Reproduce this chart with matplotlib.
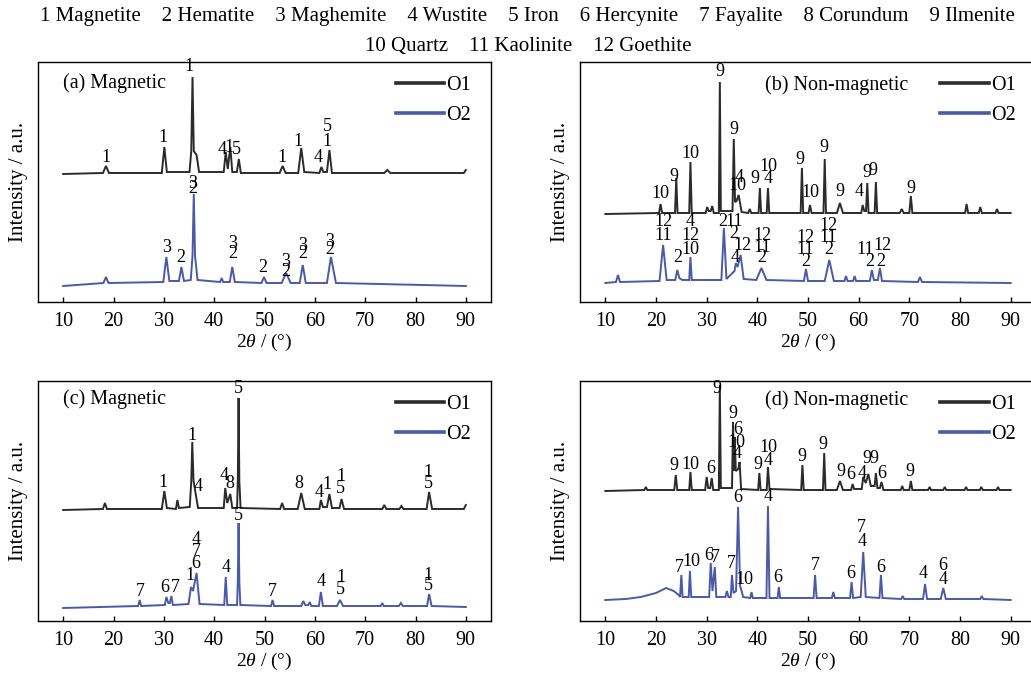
import matplotlib
matplotlib.use("Agg")
import matplotlib.pyplot as plt
from matplotlib.lines import Line2D

plt.rcParams['font.family'] = ['Liberation Serif', 'DejaVu Serif']
plt.rcParams['mathtext.fontset'] = 'custom'
plt.rcParams['mathtext.rm'] = 'Liberation Serif'
plt.rcParams['mathtext.it'] = 'Liberation Serif:italic'

# ---------------- data (2theta in degrees, intensity in a.u.) ----------------
xticks = [10, 20, 30, 40, 50, 60, 70, 80, 90]
series_names = ['O1', 'O2']
header_line1 = ("1 Magnetite    2 Hematite    3 Maghemite    4 Wustite    5 Iron    "
                "6 Hercynite    7 Fayalite    8 Corundum    9 Ilmenite")
header_line2 = "10 Quartz    11 Kaolinite    12 Goethite"
panel_titles = ['(a) Magnetic', '(b) Non-magnetic', '(c) Magnetic', '(d) Non-magnetic']

# (a) magnetic
a1_x = [10, 17.9, 18.5, 19.1, 29.6, 30.1, 30.6, 35.1, 35.45, 35.7, 35.95, 36.5, 37.0, 41.9, 42.3, 42.7, 43.2, 43.6,
        44.5, 44.9, 45.3, 53.0, 53.6, 54.2, 56.7, 57.3, 57.9, 60.9, 61.3, 61.7, 62.4, 62.9, 63.4, 73.8, 74.4, 75.0, 89.6, 90]
a1_y = [122, 123, 130, 123, 123, 149, 124, 124, 145, 219, 145, 141, 124, 124, 144, 127, 149, 124,
        124, 137, 123, 123, 130, 123, 123, 148, 124, 123, 129, 124, 124, 146, 123, 123, 126, 123, 123, 126]
a2_x = [10, 18.0, 18.5, 19.0, 29.9, 30.5, 31.1, 33.0, 33.5, 34.0, 35.35, 35.7, 35.95, 36.2, 36.7, 41.2, 41.5, 41.8,
        43.1, 43.6, 44.1, 49.4, 49.9, 50.4, 53.4, 54.3, 55.2, 57.0, 57.6, 58.2, 62.4, 63.2, 64.2, 90]
a2_y = [10, 13, 19, 13, 14, 39, 15, 15, 29, 15, 16, 40, 102, 40, 16, 14, 18, 14,
        14, 29, 14, 13, 19, 13, 13, 23, 13, 13, 31, 13, 13, 39, 13, 10]
a_lab_x = [18.5, 29.9, 35.0, 41.5, 42.9, 44.5, 53.4, 56.7, 60.75, 62.5, 62.5,
           30.5, 33.3, 35.8, 35.8, 43.6, 43.6, 49.7, 54.2, 54.2, 57.6, 57.6, 63.0, 63.0]
a_lab_y = [139, 158, 229, 146, 149, 147, 139, 155, 139, 169, 154,
           49, 38, 112, 107, 52, 43, 29, 34, 25, 51, 43, 55, 47]
a_lab_t = ['1', '1', '1', '4', '1', '5', '1', '1', '4', '5', '1',
           '3', '2', '3', '2', '3', '2', '2', '3', '2', '3', '2', '3', '2']

# (b) non-magnetic
b1_x = [10, 20.6, 20.9, 21.2, 23.75, 24.0, 24.25, 26.55, 26.8, 27.05, 29.8, 30.1, 30.4, 30.8, 31.1, 31.4,
        32.4, 32.6, 32.8, 35.1, 35.35, 35.6, 35.9, 36.3, 36.9, 38.2, 38.5, 38.8, 40.25, 40.5, 40.75,
        41.85, 42.1, 42.35, 48.55, 48.8, 49.05, 50.1, 50.4, 50.7, 53.05, 53.3, 53.55, 55.7, 56.3, 56.9,
        60.5, 60.8, 61.1, 61.45, 61.7, 61.95, 63.15, 63.4, 63.65, 68.1, 68.5, 68.9, 70.0, 70.3, 70.6,
        81.0, 81.3, 81.6, 83.7, 84.0, 84.3, 87.0, 87.3, 87.6, 90]
b1_y = [83, 84, 93, 84, 84, 119, 84, 84, 135, 84, 84, 90, 86, 86, 91, 84,
        84, 215, 86, 86, 158, 95, 96, 102, 85, 84, 88, 84, 84, 109, 84,
        84, 109, 84, 84, 129, 84, 84, 92, 84, 84, 138, 84, 84, 94, 84,
        84, 92, 86, 86, 114, 84, 84, 115, 84, 84, 88, 84, 84, 101, 84,
        84, 93, 84, 84, 90, 84, 84, 88, 84, 84]
b2_x = [10, 12.1, 12.5, 12.9, 20.7, 21.4, 22.1, 23.8, 24.2, 24.6, 25.2, 26.55, 26.8, 27.05, 32.9, 33.4, 33.9,
        35.5, 35.75, 36.1, 36.7, 37.3, 39.8, 40.8, 41.8, 49.2, 49.6, 50.0, 53.3, 54.2, 55.1, 57.2, 57.5, 57.8,
        58.9, 59.2, 59.5, 62.2, 62.6, 63.0, 63.8, 64.2, 64.6, 71.7, 72.1, 72.5, 90]
b2_y = [14, 15, 22, 15, 16, 52, 17, 17, 27, 19, 17, 17, 40, 17, 17, 69, 18,
        26, 34, 30, 42, 18, 17, 29, 17, 16, 28, 16, 16, 37, 16, 16, 21, 16,
        16, 21, 16, 16, 27, 17, 17, 29, 16, 15, 20, 15, 14]
b_lab_x = [20.9, 23.6, 26.7, 32.6, 35.4, 36.5, 36.0, 39.6, 42.1, 42.1, 48.4, 50.4, 53.2, 56.2, 60.1, 61.6, 62.9, 70.3,
           21.4, 21.4, 24.2, 26.8, 26.8, 26.8, 33.1, 35.4, 35.4, 37.0, 35.6, 41.0, 41.0, 40.8, 49.5, 49.5, 49.5,
           54.0, 54.0, 54.0, 61.2, 64.7, 62.2, 64.3]
b_lab_y = [103, 120, 143, 225, 167, 119, 111, 118, 130, 118, 138, 104, 149, 105, 105, 124, 126, 108,
           76, 62, 39, 76, 61, 48, 76, 76, 63, 52, 39, 62, 50, 40, 60, 47, 36, 72, 59, 48, 47, 51, 36, 36]
b_lab_t = ['10', '9', '10', '9', '9', '4', '10', '9', '10', '4', '9', '10', '9', '9', '4', '9', '9', '9',
           '12', '11', '2', '4', '12', '10', '2', '11', '2', '12', '4', '12', '11', '2', '12', '11', '2',
           '12', '11', '2', '11', '12', '2', '2']

# (c) magnetic
c1_x = [10, 17.9, 18.3, 18.7, 29.6, 30.1, 30.6, 32.4, 32.7, 33.0, 35.15, 35.45, 35.65, 35.9, 36.3, 36.8,
        41.9, 42.2, 42.6, 43.2, 43.6, 44.55, 44.7, 44.85, 45.0, 45.25, 53.1, 53.5, 53.9, 56.6, 57.3, 58.0,
        60.9, 61.2, 61.6, 62.4, 62.9, 63.4, 64.9, 65.3, 65.8, 73.4, 73.8, 74.2, 76.8, 77.2, 77.6,
        82.2, 82.7, 83.3, 89.6, 90]
c1_y = [111, 112, 118, 112, 112, 130, 113, 112, 121, 113, 114, 140, 179, 140, 128, 113,
        113, 133, 118, 127, 113, 113, 140, 223, 140, 113, 112, 118, 112, 112, 128, 112,
        112, 121, 114, 114, 127, 113, 113, 122, 112, 112, 116, 112, 112, 115, 112,
        112, 129, 112, 112, 116]
c2_x = [10, 24.9, 25.2, 25.5, 30.2, 30.5, 30.9, 31.2, 31.5, 31.8, 34.9, 35.4, 35.8, 36.5, 37.1, 42.0, 42.3, 42.6,
        44.55, 44.7, 44.85, 45.0, 45.2, 51.3, 51.6, 51.9, 57.3, 57.7, 58.1, 58.7, 59.0, 59.3, 60.8, 61.2, 61.6,
        64.4, 65.0, 65.6, 73.1, 73.4, 73.7, 76.7, 77.1, 77.5, 82.3, 82.7, 83.2, 90]
c2_y = [13, 15, 21, 15, 16, 24, 18, 18, 25, 16, 17, 34, 30, 48, 17, 16, 44, 16,
        16, 40, 98, 40, 16, 15, 21, 15, 15, 20, 16, 16, 19, 15, 15, 29, 15,
        15, 21, 15, 15, 18, 15, 15, 18, 15, 15, 27, 15, 14]
c_lab_x = [44.8, 35.5, 29.9, 36.9, 41.9, 43.2, 56.8, 60.9, 62.4, 65.1, 65.1, 82.5, 82.5,
           25.3, 30.2, 32.2, 35.15, 36.4, 36.4, 36.4, 42.3, 44.85, 51.6, 61.2, 65.1, 65.1, 82.5, 82.5]
c_lab_y = [233, 186, 139, 135, 146, 138, 138, 129, 137, 145, 133, 149, 138,
           30, 34, 34, 45, 58, 69, 81, 53, 106, 30, 39, 43, 32, 46, 35]
c_lab_t = ['5', '1', '1', '4', '4', '8', '8', '4', '1', '1', '5', '1', '5',
           '7', '6', '7', '1', '6', '7', '4', '4', '5', '7', '4', '1', '5', '1', '5']

# (d) non-magnetic
d1_x = [10, 17.7, 18.0, 18.3, 23.6, 23.9, 24.2, 26.55, 26.8, 27.05, 29.7, 30.0, 30.3, 30.7, 31.0, 31.3,
        32.4, 32.6, 32.8, 35.0, 35.2, 35.4, 35.55, 35.75, 36.25, 36.5, 36.8, 40.15, 40.4, 40.65,
        41.85, 42.1, 42.4, 48.65, 48.9, 49.15, 52.95, 53.2, 53.45, 55.7, 56.3, 56.9, 58.5, 58.8, 59.1,
        60.6, 60.9, 61.4, 61.9, 62.4, 63.15, 63.4, 63.7, 64.2, 64.5, 64.9, 68.3, 68.6, 68.9, 70.0, 70.3, 70.6,
        73.7, 74.0, 74.3, 76.7, 77.0, 77.3, 80.9, 81.2, 81.5, 83.9, 84.2, 84.5, 87.2, 87.5, 87.8, 90]
d1_y = [130, 131, 134, 131, 131, 146, 131, 131, 149, 131, 131, 144, 133, 133, 143, 131,
        131, 236, 133, 133, 199, 150, 184, 150, 152, 159, 132, 131, 148, 131,
        131, 154, 132, 131, 156, 131, 131, 168, 131, 131, 140, 131, 131, 137, 132,
        132, 144, 138, 147, 135, 135, 148, 133, 133, 139, 131, 131, 135, 131, 131, 140, 131,
        131, 134, 131, 131, 134, 131, 131, 134, 131, 131, 134, 131, 131, 134, 131, 131]
d2_x = [10, 14.0, 17.0, 20.0, 22.0, 23.5, 24.5, 24.75, 25.0, 25.25, 26.45, 26.7, 26.95, 30.5, 30.8, 31.15, 31.6,
        31.9, 33.7, 34.0, 34.3, 34.75, 35.0, 35.3, 35.8, 36.2, 36.6, 36.9, 37.2, 38.6, 38.85, 39.1,
        41.8, 42.1, 42.4, 44.0, 44.25, 44.5, 51.1, 51.4, 51.7, 54.7, 55.0, 55.3, 58.3, 58.6, 58.9,
        60.4, 60.9, 61.4, 64.1, 64.4, 64.7, 68.4, 68.7, 69.0, 72.7, 73.1, 73.5, 76.2, 76.7, 77.2,
        84.0, 84.3, 84.6, 90]
d2_y = [21, 22, 24, 28, 33, 30, 26, 24, 46, 24, 24, 50, 24, 24, 58, 30, 54,
        24, 24, 30, 24, 24, 46, 28, 30, 114, 35, 30, 24, 23, 29, 23,
        23, 115, 23, 23, 34, 23, 23, 46, 23, 23, 29, 23, 23, 39, 23,
        24, 69, 24, 23, 46, 23, 22, 25, 22, 22, 37, 22, 22, 33, 22,
        22, 25, 22, 21]
d_lab_x = [32.1, 35.2, 36.1, 35.9, 36.0, 23.6, 26.8, 30.8, 40.2, 42.15, 42.1, 48.7, 53.0, 56.4, 58.5, 60.6,
           61.6, 63.1, 64.5, 70.1,
           24.55, 26.9, 30.4, 31.8, 34.8, 37.4, 36.2, 42.1, 44.0, 51.4, 58.5, 60.6, 60.6, 64.3, 72.8, 76.6, 76.6]
d_lab_y = [233, 208, 192, 179, 168, 156, 157, 153, 157, 174, 161, 165, 177, 150, 147, 148, 163, 163, 148, 150,
           54, 60, 66, 64, 58, 42, 124, 125, 44, 55, 48, 93, 80, 54, 48, 55, 42]
d_lab_t = ['9', '9', '6', '10', '4', '9', '10', '6', '9', '10', '4', '9', '9', '9', '6', '4', '9', '9', '6', '9',
           '7', '10', '6', '7', '7', '10', '6', '4', '6', '7', '6', '7', '4', '6', '4', '6', '4']

# ---------------- styling / layout ----------------
W, H = 1031, 673
col_o1 = '#2b2b2b'
col_o2 = '#4a5aa6'

fig = plt.figure(figsize=(W / 100, H / 100), dpi=100)


def px_axes(left, top, right, bottom):
    return fig.add_axes([left / W, 1 - bottom / H, (right - left) / W, (bottom - top) / H])


panels = [
    dict(rect=(38, 62, 491, 302), ylim=(-6, 234), s1=(a1_x, a1_y), s2=(a2_x, a2_y),
         lab=(a_lab_x, a_lab_y, a_lab_t), title=panel_titles[0], tx=10, ty=213),
    dict(rect=(580, 62, 1036, 302), ylim=(-5, 235), s1=(b1_x, b1_y), s2=(b2_x, b2_y),
         lab=(b_lab_x, b_lab_y, b_lab_t), title=panel_titles[1], tx=41.5, ty=212),
    dict(rect=(38, 381, 491, 621), ylim=(0, 240), s1=(c1_x, c1_y), s2=(c2_x, c2_y),
         lab=(c_lab_x, c_lab_y, c_lab_t), title=panel_titles[2], tx=10, ty=222),
    dict(rect=(580, 381, 1036, 621), ylim=(0, 240), s1=(d1_x, d1_y), s2=(d2_x, d2_y),
         lab=(d_lab_x, d_lab_y, d_lab_t), title=panel_titles[3], tx=41.5, ty=221),
]

for p in panels:
    ax = px_axes(*p['rect'])
    ax.plot(p['s1'][0], p['s1'][1], color=col_o1, lw=1.4, solid_joinstyle='miter')
    ax.plot(p['s2'][0], p['s2'][1], color=col_o2, lw=1.4, solid_joinstyle='miter')
    ax.set_xlim(5, 95)
    ax.set_ylim(*p['ylim'])
    ax.set_xticks(xticks)
    ax.set_yticks([])
    ax.tick_params(axis='x', direction='in', length=3.6, width=1, labelsize=14.5, pad=7)
    for sp in ax.spines.values():
        sp.set_linewidth(1.0)
    ax.set_xlabel(r'2$\it{\theta}$ / (°)', fontsize=14, labelpad=1)
    ax.set_ylabel('Intensity / a.u.', fontsize=15, labelpad=7)
    lx, ly, lt = p['lab']
    for x, y, t in zip(lx, ly, lt):
        ax.text(x, y, t, fontsize=13, ha='center', va='center', color='black')
    ax.text(p['tx'], p['ty'], p['title'], fontsize=14.5, ha='left', va='center')
    handles = [Line2D([], [], color=col_o1, lw=2.6), Line2D([], [], color=col_o2, lw=2.6)]
    ax.legend(handles, series_names, loc='upper right', bbox_to_anchor=(0.955, 0.94),
              frameon=False, fontsize=14.5, handlelength=2.4, handletextpad=0.1,
              labelspacing=0.5, borderpad=0, borderaxespad=0)

fig.text(0.512, 1 - 17 / H, header_line1, ha='center', va='center', fontsize=15)
fig.text(0.512, 1 - 46 / H, header_line2, ha='center', va='center', fontsize=15)

fig.savefig('out.png', dpi=100)
